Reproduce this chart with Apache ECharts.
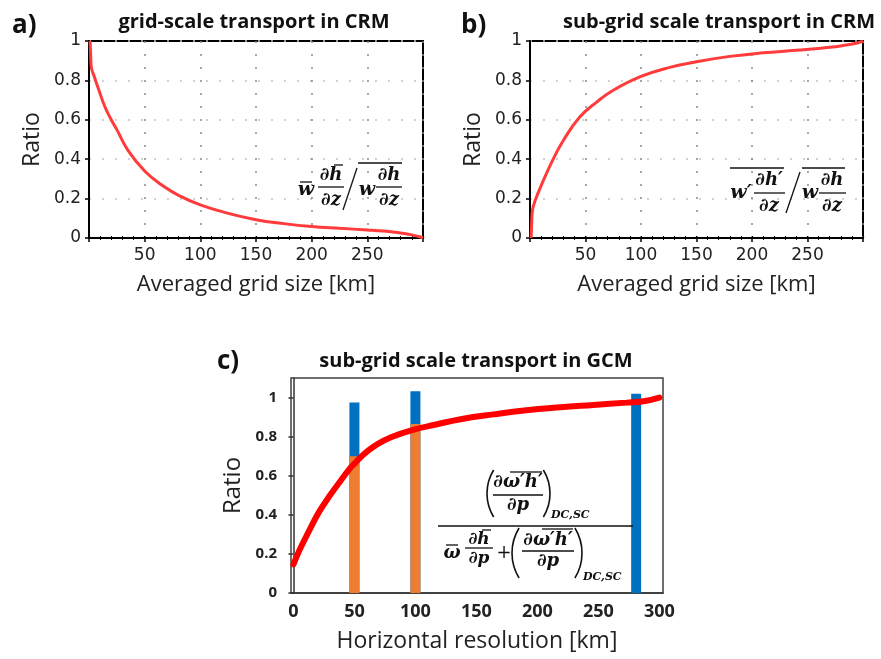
<!DOCTYPE html>
<html>
<head>
<meta charset="utf-8">
<script src="https://cdn.jsdelivr.net/npm/echarts@6/dist/echarts.min.js"></script>
<style>html,body{margin:0;padding:0;background:#fff;}#main{width:881px;height:659px;}</style>
</head>
<body>
<div id="main"></div>
<script>
// ---- Panel a: grid-scale transport in CRM ----
const kmA = [1, 1.5, 2, 5, 8, 14, 20, 25, 35, 50, 65, 80, 100, 125, 150, 175, 200, 225, 250, 265, 280, 290, 297, 300];
const ratioA = [1.0, 0.93, 0.87, 0.815, 0.765, 0.67, 0.6, 0.55, 0.445, 0.34, 0.27, 0.218, 0.168, 0.125, 0.093, 0.073, 0.058, 0.049, 0.041, 0.035, 0.025, 0.016, 0.006, 0.0];
// ---- Panel b: sub-grid scale transport in CRM ----
const kmB = [1, 1.5, 2.2, 5, 10, 20, 30, 45, 60, 75, 100, 125, 150, 180, 210, 240, 270, 285, 295, 300];
const ratioB = [0, 0.07, 0.14, 0.195, 0.265, 0.39, 0.495, 0.615, 0.69, 0.75, 0.82, 0.865, 0.895, 0.922, 0.94, 0.953, 0.968, 0.98, 0.99, 1.0];
// ---- Panel c: sub-grid scale transport in GCM ----
const kmC = [0, 5, 13, 21, 30, 39, 46, 50, 54, 60, 68, 80, 98, 117, 136, 164, 191, 219, 246, 273, 287, 300];
const ratioC = [0.146, 0.22, 0.32, 0.415, 0.5, 0.577, 0.635, 0.662, 0.688, 0.722, 0.758, 0.797, 0.835, 0.862, 0.888, 0.914, 0.935, 0.95, 0.962, 0.974, 0.981, 1.0];
const resC = [50, 100, 281];
const barOrange = [0.70, 0.865, 0];
const barBlue = [0.275, 0.167, 1.02];
// tick labels
const xTicksAB = [50, 100, 150, 200, 250];
const xTicksC = [0, 50, 100, 150, 200, 250, 300];
const yTicks = [0, 0.2, 0.4, 0.6, 0.8, 1];

const zip = (xs, ys) => xs.map((x, i) => [x, ys[i]]);
const barTotal = barOrange.map((v, i) => v + barBlue[i]);

const LBL = '"DejaVu Sans", sans-serif';
const SANS = '"Open Sans", sans-serif';
const MATH = '"DejaVu Serif", serif';

function crmX(idx, name) {
  return {
    type: 'value', gridIndex: idx, min: 0, max: 300, interval: 50, position: 'bottom',
    axisLine: { show: true, onZero: false, lineStyle: { color: '#000', width: 2 } },
    axisTick: { show: true, length: 4, lineStyle: { color: '#000', width: 1.5 } },
    minorTick: { show: true, splitNumber: 5, length: 2, lineStyle: { color: '#000', width: 1 } },
    axisLabel: { showMinLabel: false, showMaxLabel: false, fontSize: 17, fontFamily: LBL, color: '#222', margin: 9 },
    splitLine: { show: true, lineStyle: { type: [2, 11], color: '#8a8a8a', width: 1.5 } },
    name: name, nameLocation: 'middle', nameGap: 36,
    nameTextStyle: { fontSize: 22, fontFamily: SANS, color: '#222' }
  };
}
function crmXTop(idx) {
  return {
    type: 'value', gridIndex: idx, min: 0, max: 300, interval: 50, position: 'top',
    axisLine: { show: false },
    axisTick: { show: true, length: 2, lineStyle: { color: '#000', width: 1.2 } },
    minorTick: { show: true, splitNumber: 5, length: 2, lineStyle: { color: '#000', width: 1 } },
    axisLabel: { show: false }, splitLine: { show: false }
  };
}
function crmY(idx) {
  return {
    type: 'value', gridIndex: idx, min: 0, max: 1, interval: 0.2,
    axisLine: { show: true, lineStyle: { color: '#000', width: 2 } },
    axisTick: { show: true, length: 4, lineStyle: { color: '#000', width: 1.5 } },
    axisLabel: { fontSize: 17, fontFamily: LBL, color: '#222', margin: 8 },
    splitLine: { show: true, lineStyle: { type: [2, 11], color: '#c4c4c4', width: 1.5 } },
    name: 'Ratio', nameLocation: 'middle', nameGap: 45,
    nameTextStyle: { fontSize: 23, fontFamily: SANS, color: '#222' }
  };
}

function T(x, y, s, size, align, weight, family) {
  return { type: 'text', x: x, y: y, z: 100,
    style: { text: s, font: (weight || 'italic bold') + ' ' + size + 'px ' + (family || MATH),
      textAlign: align || 'center', textVerticalAlign: 'middle', fill: '#111' } };
}
function L(x1, y1, x2, y2, w) {
  return { type: 'line', z: 100, shape: { x1: x1, y1: y1, x2: x2, y2: y2 }, style: { stroke: '#111', lineWidth: w || 1.3 } };
}
function P(edgeX, cy, half, left) {
  const th = 0.55, r = half / Math.sin(th);
  return { type: 'arc', z: 100,
    shape: { cx: left ? edgeX + r : edgeX - r, cy: cy, r: r,
      startAngle: left ? Math.PI - th : -th, endAngle: left ? Math.PI + th : th, clockwise: true },
    style: { stroke: '#111', lineWidth: 1.6, fill: null } };
}

const graphics = [
  // titles
  T(12, 26, 'a)', 26, 'left', 'bold', SANS),
  T(254, 22, 'grid-scale transport in CRM', 20, 'center', 'bold', SANS),
  T(461, 26, 'b)', 26, 'left', 'bold', SANS),
  T(719, 22, 'sub-grid scale transport in CRM', 20, 'center', 'bold', SANS),
  T(217, 362, 'c)', 26, 'left', 'bold', SANS),
  T(476, 361, 'sub-grid scale transport in GCM', 20, 'center', 'bold', SANS),
  // formula a
  T(306, 190, 'w', 19), L(300, 182, 312, 182),
  T(331, 175, '∂h', 18), L(334, 165, 343, 165), L(318, 187, 344, 187), T(331, 200, '∂z', 18),
  L(357, 168, 343, 210),
  L(358, 163, 402, 163),
  T(367, 190, 'w', 19),
  T(389, 175, '∂h', 18), L(376, 187, 402, 187), T(389, 200, '∂z', 18),
  // formula b
  L(730, 168, 784, 168),
  T(741, 193, 'w′', 19),
  T(769, 180, '∂h′', 18), L(754, 193, 785, 193), T(769, 206, '∂z', 18),
  L(800, 172, 786, 213),
  L(802, 168, 845, 168),
  T(810, 193, 'w', 19),
  T(832, 180, '∂h', 18), L(819, 193, 846, 193), T(832, 206, '∂z', 18),
  // formula c numerator
  P(487, 493.5, 23.5, true),
  T(518, 482, '∂ω′h′', 18), L(510, 472, 542, 472),
  L(493, 495, 543, 495), T(518, 505, '∂p', 18),
  P(550, 493.5, 23.5, false),
  T(551, 515, 'DC,SC', 11, 'left'),
  // main bar
  L(438, 526, 633, 526, 1.5),
  // denominator
  T(452, 553, 'ω', 18), L(446, 545, 458, 545),
  T(479, 540, '∂h', 17), L(482, 530, 491, 530), L(465, 548, 493, 548), T(479, 559, '∂p', 17),
  T(504, 553, '+', 18, 'center', 'normal'),
  P(512, 553, 25, true),
  T(548, 540, '∂ω′h′', 18), L(542, 529, 573, 529),
  L(522, 551, 574, 551), T(548, 561, '∂p', 18),
  P(582, 553, 25, false),
  T(583, 577, 'DC,SC', 11, 'left')
];

const chart = echarts.init(document.getElementById('main'), null, { renderer: 'canvas' });
chart.setOption({
  animation: false,
  backgroundColor: '#fff',
  grid: [
    { left: 89, top: 41, width: 334, height: 197, show: true, borderColor: '#000', borderWidth: 2, backgroundColor: 'transparent' },
    { left: 530, top: 41, width: 333, height: 197, show: true, borderColor: '#000', borderWidth: 2, backgroundColor: 'transparent' },
    { left: 291, top: 378, width: 372, height: 215, show: true, borderColor: '#404040', borderWidth: 1.5, backgroundColor: 'transparent' }
  ],
  xAxis: [
    crmX(0, 'Averaged grid size [km]'),
    crmX(1, 'Averaged grid size [km]'),
    {
      type: 'value', gridIndex: 2, min: -2, max: 303,
      axisLine: { show: true, onZero: false, lineStyle: { color: '#333', width: 1.5 } },
      axisTick: { show: false },
      axisLabel: { customValues: xTicksC, fontSize: 18, fontWeight: 'bold', fontFamily: SANS, color: '#222', margin: 10 },
      splitLine: { show: false },
      name: 'Horizontal resolution [km]', nameLocation: 'middle', nameGap: 37,
      nameTextStyle: { fontSize: 23, fontFamily: SANS, color: '#222' }
    },
    crmXTop(0),
    crmXTop(1)
  ],
  yAxis: [
    crmY(0),
    crmY(1),
    {
      type: 'value', gridIndex: 2, min: 0, max: 1.1,
      axisLine: { show: true, lineStyle: { color: '#333', width: 1.5 } },
      axisTick: { show: true, customValues: yTicks, length: 5, lineStyle: { color: '#333', width: 1.5 } },
      axisLabel: { customValues: yTicks, fontSize: 15, fontWeight: 'bold', fontFamily: SANS, color: '#222', margin: 14 },
      splitLine: { show: false },
      name: 'Ratio', nameLocation: 'middle', nameGap: 46,
      nameTextStyle: { fontSize: 24, fontFamily: SANS, color: '#222' }
    }
  ],
  series: [
    { name: 'grid-scale (CRM)', type: 'line', xAxisIndex: 0, yAxisIndex: 0, data: zip(kmA, ratioA),
      smooth: 0.45, showSymbol: false, lineStyle: { color: '#ff3b3b', width: 3 }, z: 5 },
    { name: 'sub-grid (CRM)', type: 'line', xAxisIndex: 1, yAxisIndex: 1, data: zip(kmB, ratioB),
      smooth: 0.45, showSymbol: false, lineStyle: { color: '#ff3b3b', width: 3 }, z: 5 },
    { name: 'total', type: 'bar', xAxisIndex: 2, yAxisIndex: 2, barWidth: 10, barGap: '-100%',
      data: zip(resC, barTotal), itemStyle: { color: '#0070C0' }, z: 2 },
    { name: 'DC,SC', type: 'bar', xAxisIndex: 2, yAxisIndex: 2, barWidth: 10, barGap: '-100%',
      data: zip(resC, barOrange), itemStyle: { color: '#ED7D31' }, z: 3 },
    { name: 'sub-grid (GCM)', type: 'line', xAxisIndex: 2, yAxisIndex: 2, data: zip(kmC, ratioC),
      smooth: 0.45, showSymbol: false, lineStyle: { color: '#ff0000', width: 6, cap: 'round' }, z: 6 }
  ],
  graphic: graphics
});
</script>
</body>
</html>
